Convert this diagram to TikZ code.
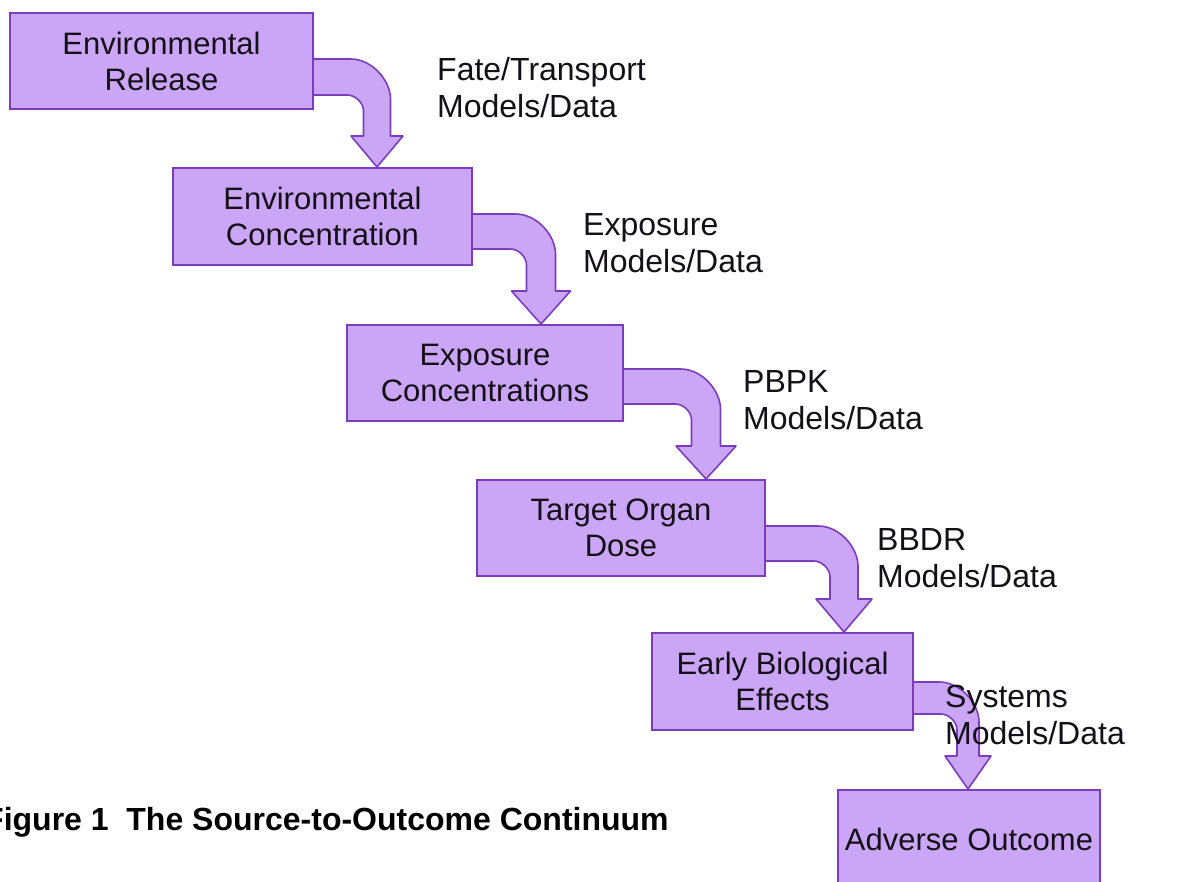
\documentclass[tikz,border=0pt]{standalone}
\usepackage{fontspec}
\setmainfont{Liberation Sans}
\usetikzlibrary{calc}
\pgfdeclarelayer{bg}
\pgfsetlayers{bg,main}
\definecolor{boxfill}{RGB}{204,166,246}
\definecolor{boxline}{RGB}{124,60,190}
\definecolor{txt}{RGB}{20,16,24}
\tikzset{
  stagebox/.style={draw=boxline, fill=boxfill, line width=2pt, rectangle,
    align=center, text=txt, inner sep=0pt,
    font=\fontsize{31}{36}\selectfont},
  modellabel/.style={anchor=west, align=left, text=txt, inner sep=0pt,
    font=\fontsize{32}{37}\selectfont},
  bentarrowstyle/.style={draw=boxline, fill=boxfill, line width=1.6pt, line join=round}
}
\def\ro{40}
\def\ri{16}
% #1 source, #2 target, #3 band top offset, #4 band bottom offset,
% #5 tip x offset from source east, #6 half shaft width, #7 half head width, #8 head length
\newcommand\bentarrow[8]{%
  \coordinate (T) at ($(#2.north -| #1.east)+(#5,0)$);
  \coordinate (S) at (#1.north east);
  \coordinate (U) at (T|-S);
  \draw[bentarrowstyle]
    ($(S)+(-4,#3)$) -- ($(U)+(#6-\ro,#3)$)
      .. controls ($(U)+(#6-0.45*\ro,#3)$) and ($(U)+(#6,#3+0.55*\ro)$) .. ($(U)+(#6,#3+\ro)$)
    -- ($(T)+(#6,-#8)$) -- ($(T)+(#7,-#8)$) -- (T) -- ($(T)+(-#7,-#8)$)
    -- ($(T)+(-#6,-#8)$) -- ($(U)+(-#6,#4+\ri)$)
      .. controls ($(U)+(-#6,#4+0.45*\ri)$) and ($(U)+(-#6-0.55*\ri,#4)$) .. ($(U)+(-#6-\ri,#4)$)
    -- ($(S)+(-4,#4)$) -- cycle;
}
\begin{document}
\begin{tikzpicture}[x=1pt,y=-1pt]
\useasboundingbox (0,0) rectangle (1204,882);

\node[stagebox, minimum width=303pt, minimum height=96pt] (b1) at (161.5,61) {Environmental\\Release};
\node[stagebox, minimum width=299pt, minimum height=97pt] (b2) at (322.5,216.5) {Environmental\\Concentration};
\node[stagebox, minimum width=276pt, minimum height=96pt] (b3) at (485,373) {Exposure\\Concentrations};
\node[stagebox, minimum width=288pt, minimum height=96pt] (b4) at (621,528) {Target Organ\\Dose};
\node[stagebox, minimum width=261pt, minimum height=97pt] (b5) at (782.5,681.5) {Early Biological\\Effects};
\node[stagebox, minimum width=262pt, minimum height=98pt] (b6) at (969,839) {Adverse Outcome};

\begin{pgfonlayer}{bg}
\fill[white] (0,0) rectangle (1204,882);
\bentarrow{b1}{b2}{47}{83}{63}{13.5}{26}{31}
\bentarrow{b2}{b3}{47}{82}{68}{14.5}{29.5}{33}
\bentarrow{b3}{b4}{45}{80}{82}{14.5}{30}{33}
\bentarrow{b4}{b5}{47}{82}{78}{14}{28}{33}
\bentarrow{b5}{b6}{50}{82}{54}{11}{23}{33}
\end{pgfonlayer}

\node[modellabel] (l1) at (437,88) {Fate/Transport\\Models/Data};
\node[modellabel] (l2) at (583,243) {Exposure\\Models/Data};
\node[modellabel] (l3) at (743,400) {PBPK\\Models/Data};
\node[modellabel] (l4) at (877,558) {BBDR\\Models/Data};
\node[modellabel] (l5) at (945,715) {Systems\\Models/Data};

\node[anchor=base west, inner sep=0pt, text=black, font=\fontsize{32}{37}\selectfont\bfseries] (cap) at (-16,830) {Figure 1\ \ The Source-to-Outcome Continuum};
\end{tikzpicture}
\end{document}
